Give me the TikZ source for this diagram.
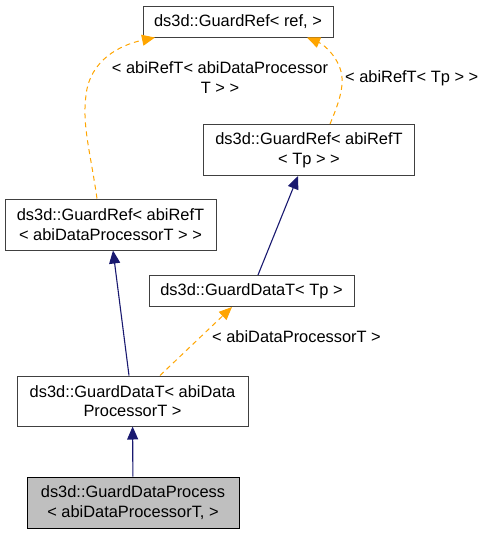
\documentclass[tikz,border=0pt]{standalone}
\usepackage{fontspec}
\setmainfont{Liberation Sans}
\usepackage{xcolor}
\usetikzlibrary{arrows.meta}
\definecolor{edgeblue}{HTML}{191970}
\definecolor{tmplorange}{HTML}{FFA500}
\definecolor{boxgray}{HTML}{BFBFBF}
\tikzstyle{classbox} = [rectangle,draw=black!75,line width=1pt,align=center,inner sep=2pt,font=\fontsize{16.4}{19.7}\selectfont]
\tikzstyle{current} = [classbox,fill=boxgray,draw=black]
\tikzstyle{edgetext} = [align=center,inner sep=0pt,font=\fontsize{16.4}{19.7}\selectfont]
\tikzstyle{arrow} = [edgeblue,line width=1.1pt,-{Triangle[length=13pt,width=11pt]}]
\tikzstyle{tmpl} = [tmplorange,line width=1pt,dash pattern=on 5pt off 4pt,-{Triangle[length=13pt,width=11pt]}]

\begin{document}
\begin{tikzpicture}[x=1pt,y=-1pt]
\useasboundingbox (0,0) rectangle (481,533);
\node (ref) [classbox,minimum width=190pt,minimum height=31pt] at (238,21.5) {ds3d::GuardRef< ref, >};
\node (tpref) [classbox,minimum width=211pt,minimum height=51pt] at (309,150) {ds3d::GuardRef< abiRefT\\< Tp > >};
\node (dpref) [classbox,minimum width=211pt,minimum height=51pt] at (110.5,224.5) {ds3d::GuardRef< abiRefT\\< abiDataProcessorT > >};
\node (tpdata) [classbox,minimum width=205pt,minimum height=31pt] at (251.5,291) {ds3d::GuardDataT< Tp >};
\node (dpdata) [classbox,minimum width=231pt,minimum height=50pt] at (132.5,401) {ds3d::GuardDataT< abiData\\ProcessorT >};
\node (process) [current,minimum width=212pt,minimum height=51pt] at (133,502.5) {ds3d::GuardDataProcess\\< abiDataProcessorT, >};

\node (dplabel) [edgetext] at (220,77.5) {< abiRefT< abiDataProcessor\\T > >};
\node (tplabel) [edgetext,anchor=west] at (345,78) {< abiRefT< Tp > >};
\node (datalabel) [edgetext,anchor=west] at (212,337) {< abiDataProcessorT >};

\draw [tmpl] ([xshift=-13.5pt]dpref.north) .. controls (90,150) and (82,125) .. (86,95) .. controls (90,60) and (120,45) .. ([xshift=-83pt]ref.south);
\draw [tmpl] ([xshift=21pt]tpref.north) .. controls (338,105) and (343,90) .. (342,78) .. controls (341,60) and (325,45) .. ([xshift=69pt]ref.south);
\draw [arrow] ([xshift=6.5pt]tpdata.north) -- ([xshift=-11pt]tpref.south);
\draw [arrow] ([xshift=-3.5pt]dpdata.north) -- ([xshift=2.5pt]dpref.south);
\draw [tmpl] ([xshift=27.5pt]dpdata.north) -- ([xshift=-19.5pt]tpdata.south);
\draw [arrow] (process) -- (dpdata);
\end{tikzpicture}
\end{document}
